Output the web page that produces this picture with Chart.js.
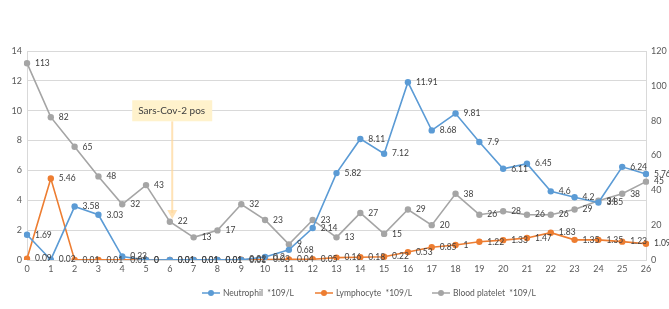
<!DOCTYPE html>
<html><head><meta charset="utf-8">
<script src="https://cdn.jsdelivr.net/npm/chart.js@4/dist/chart.umd.min.js"></script>
<style>html,body{margin:0;padding:0;background:#fff}</style>
</head><body>
<canvas id="c" width="669" height="309"></canvas>
<script>
const categories = ['0','1','2','3','4','5','6','7','8','9','10','11','12','13','14','15','16','17','18','19','20','21','22','23','24','25','26'];
const neutrophil = [1.69,0.02,3.58,3.03,0.23,0,0.01,0.01,0.01,0.01,0.2,0.68,2.14,5.82,8.11,7.12,11.91,8.68,9.81,7.9,6.11,6.45,4.6,4.2,3.85,6.24,5.76];
const lymphocyte = [0.09,5.46,0.01,0.01,0.01,0,0.01,0.01,0.01,0.02,0.03,0.04,0.05,0.16,0.18,0.22,0.53,0.85,1,1.22,1.33,1.47,1.83,1.35,1.35,1.23,1.09];
const platelet = [113,82,65,48,32,43,22,13,17,32,23,9,23,13,27,15,29,20,38,26,28,26,26,29,34,38,45];
const seriesNames = ['Neutrophil  *109/L','Lymphocyte  *109/L','Blood platelet  *109/L'];
const seriesColors = ['#5B9BD5','#ED7D31','#A5A5A5'];
const leftAxis = {min:0, max:14, step:2};
const rightAxis = {min:0, max:120, step:20};
const annotationText = 'Sars-Cov-2 pos';
const annotationDay = 6.1;
const annotationBoxTop = 10.7;
const annotationArrowTip = 2.75;

const FONT = 'Lato, "Open Sans", sans-serif';
const legendX = [202, 315, 432];
const legendY = 293;

const overlay = {
  id:'overlay',
  afterDatasetsDraw(chart){
    const ctx = chart.ctx;
    const xs = chart.scales.x, yl = chart.scales.y;
    const ax = xs.getPixelForValue(annotationDay);
    const boxTop = yl.getPixelForValue(annotationBoxTop);
    const boxH = 21, boxW = 80;
    const tipY = yl.getPixelForValue(annotationArrowTip);
    ctx.save();
    ctx.strokeStyle = 'rgba(255,214,150,0.7)';
    ctx.lineWidth = 2;
    ctx.beginPath(); ctx.moveTo(ax, boxTop+boxH); ctx.lineTo(ax, tipY-6); ctx.stroke();
    ctx.fillStyle = 'rgba(255,214,150,0.7)';
    ctx.beginPath(); ctx.moveTo(ax-5, tipY-9); ctx.lineTo(ax+5, tipY-9); ctx.lineTo(ax, tipY); ctx.closePath(); ctx.fill();
    ctx.fillStyle = '#FFF2CC';
    ctx.fillRect(ax-boxW/2, boxTop, boxW, boxH);
    ctx.fillStyle = '#404040';
    ctx.font = '10px ' + FONT;
    ctx.textBaseline = 'middle'; ctx.textAlign = 'left';
    ctx.fillText(annotationText, ax-boxW/2+6, boxTop+boxH/2);
    ctx.restore();

    ctx.save();
    ctx.font = '8.5px ' + FONT;
    ctx.fillStyle = '#404040';
    ctx.textBaseline = 'middle'; ctx.textAlign = 'left';
    chart.data.datasets.forEach((ds,i)=>{
      const meta = chart.getDatasetMeta(i);
      meta.data.forEach((pt,j)=>{
        ctx.fillText(String(ds.data[j]), pt.x+8, pt.y);
      });
    });
    ctx.restore();
  },
  afterDraw(chart){
    const ctx = chart.ctx;
    ctx.save();
    ctx.font = '8.5px ' + FONT;
    ctx.textBaseline = 'middle'; ctx.textAlign = 'left';
    chart.data.datasets.forEach((ds,i)=>{
      const x = legendX[i], c = seriesColors[i];
      ctx.strokeStyle = c; ctx.lineWidth = 1.5;
      ctx.beginPath(); ctx.moveTo(x, legendY); ctx.lineTo(x+18, legendY); ctx.stroke();
      ctx.fillStyle = c; ctx.beginPath(); ctx.arc(x+9, legendY, 3, 0, Math.PI*2); ctx.fill();
      ctx.fillStyle = '#595959';
      ctx.fillText(ds.label, x+21, legendY);
    });
    ctx.restore();
  }
};

const mk = (i, data, axis)=>({
  label: seriesNames[i], data, yAxisID: axis,
  borderColor: seriesColors[i], backgroundColor: seriesColors[i],
  borderWidth: 1.6, pointRadius: 3.2, pointBorderWidth: 0, pointHoverRadius: 3.2,
  pointStyle: 'circle', tension: 0
});

new Chart(document.getElementById('c'), {
  type:'line',
  data:{
    labels: categories,
    datasets:[ mk(0, neutrophil, 'y'), mk(1, lymphocyte, 'y'), mk(2, platelet, 'y1') ]
  },
  options:{
    responsive:false, animation:false, devicePixelRatio:1,
    layout:{padding:{top:51, bottom:29, left:0, right:0}},
    plugins:{ tooltip:{enabled:false}, legend:{display:false} },
    scales:{
      x:{
        offset:false,
        grid:{display:false, drawTicks:false},
        border:{display:true, color:'#D9D9D9'},
        ticks:{font:{size:9, family:FONT}, color:'#595959', padding:4, maxRotation:0, autoSkip:false},
        afterFit(s){ s.height = 20; }
      },
      y:{
        position:'left', min:leftAxis.min, max:leftAxis.max,
        ticks:{stepSize:leftAxis.step, font:{size:9, family:FONT}, color:'#595959', padding:5},
        grid:{color:'#D9D9D9', drawTicks:false},
        border:{display:true, color:'#D9D9D9'},
        afterFit(s){ s.width = 27; }
      },
      y1:{
        position:'right', min:rightAxis.min, max:rightAxis.max,
        ticks:{stepSize:rightAxis.step, font:{size:9, family:FONT}, color:'#595959', padding:5},
        grid:{display:false, drawTicks:false},
        border:{display:true, color:'#D9D9D9'},
        afterFit(s){ s.width = 23; }
      }
    }
  },
  plugins:[overlay]
});
</script>
</body></html>
